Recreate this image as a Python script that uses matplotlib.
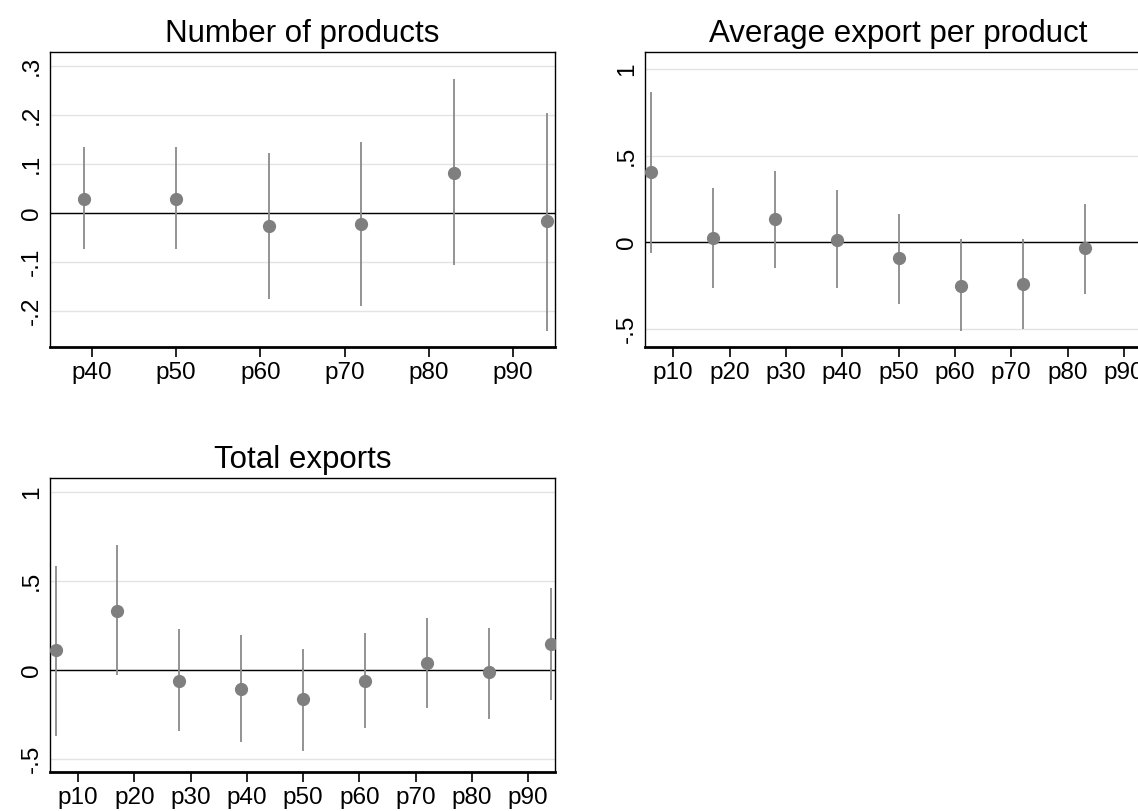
import numpy as np
import matplotlib
matplotlib.use("Agg")
import matplotlib.pyplot as plt

plt.rcParams['font.family'] = ['Liberation Sans', 'DejaVu Sans']

# percentile positions of the estimates
x_prod = [39, 50, 61, 72, 83, 94]
x_all = [6, 17, 28, 39, 50, 61, 72, 83, 94]

# Number of products
prod_b = [0.029, 0.029, -0.026, -0.023, 0.082, -0.017]
prod_lo = [-0.074, -0.074, -0.176, -0.190, -0.106, -0.242]
prod_hi = [0.134, 0.134, 0.123, 0.146, 0.274, 0.205]

# Average export per product
avg_b = [0.403, 0.023, 0.134, 0.013, -0.092, -0.252, -0.242, -0.034, 0.27]
avg_lo = [-0.061, -0.265, -0.147, -0.265, -0.353, -0.511, -0.502, -0.300, -0.20]
avg_hi = [0.865, 0.315, 0.410, 0.300, 0.162, 0.021, 0.021, 0.219, 0.74]

# Total exports
tot_b = [0.114, 0.335, -0.063, -0.108, -0.165, -0.063, 0.042, -0.013, 0.146]
tot_lo = [-0.369, -0.028, -0.345, -0.407, -0.455, -0.328, -0.212, -0.275, -0.170]
tot_hi = [0.587, 0.706, 0.231, 0.199, 0.121, 0.208, 0.294, 0.239, 0.460]

xt_prod = [40, 50, 60, 70, 80, 90]
xt_all = [10, 20, 30, 40, 50, 60, 70, 80, 90]

W, H = 1138, 811
fig = plt.figure(figsize=(W / 100, H / 100), dpi=100)


def px_axes(l, t, r, b):
    return fig.add_axes([l / W, 1 - b / H, (r - l) / W, (b - t) / H])


def panel(ax, x, b, lo, hi, xt, xlim, ylim, yt, ylab, title):
    ax.set_xlim(*xlim)
    ax.set_ylim(*ylim)
    for y in yt:
        ax.axhline(y, color='#e3e3e3', lw=1.0, zorder=0)
    ax.axhline(0, color='black', lw=1.0, zorder=1)
    ax.vlines(x, lo, hi, color='#8a8a8a', lw=1.3, zorder=2)
    ax.plot(x, b, 'o', color='#7f7f7f', ms=8.5, mec='#7f7f7f', zorder=3)
    ax.set_xticks(xt)
    ax.set_xticklabels(['p%d' % v for v in xt], fontsize=17.5)
    ax.set_yticks(yt)
    ax.set_yticklabels(ylab, fontsize=17.5, rotation=90, va='center')
    ax.tick_params(axis='y', length=0, pad=5)
    ax.tick_params(axis='x', length=7, width=1.2, pad=4, direction='out')
    for s in ['left', 'top', 'right']:
        ax.spines[s].set_linewidth(1.0)
    ax.spines['bottom'].set_linewidth(2.0)
    ax.set_title(title, fontsize=22.5, pad=7)


ax1 = px_axes(50, 52, 555, 347)
panel(ax1, x_prod, prod_b, prod_lo, prod_hi, xt_prod, (35, 95), (-0.274, 0.329),
      [-0.2, -0.1, 0, 0.1, 0.2, 0.3], ['-.2', '-.1', '0', '.1', '.2', '.3'],
      'Number of products')

ax2 = px_axes(645, 52, 1151, 347)
panel(ax2, x_all, avg_b, avg_lo, avg_hi, xt_all, (5, 94.8), (-0.603, 1.097),
      [-0.5, 0, 0.5, 1], ['-.5', '0', '.5', '1'],
      'Average export per product')

ax3 = px_axes(50, 478, 555, 772)
panel(ax3, x_all, tot_b, tot_lo, tot_hi, xt_all, (5, 94.8), (-0.574, 1.081),
      [-0.5, 0, 0.5, 1], ['-.5', '0', '.5', '1'],
      'Total exports')

fig.savefig('out.png', dpi=100)
